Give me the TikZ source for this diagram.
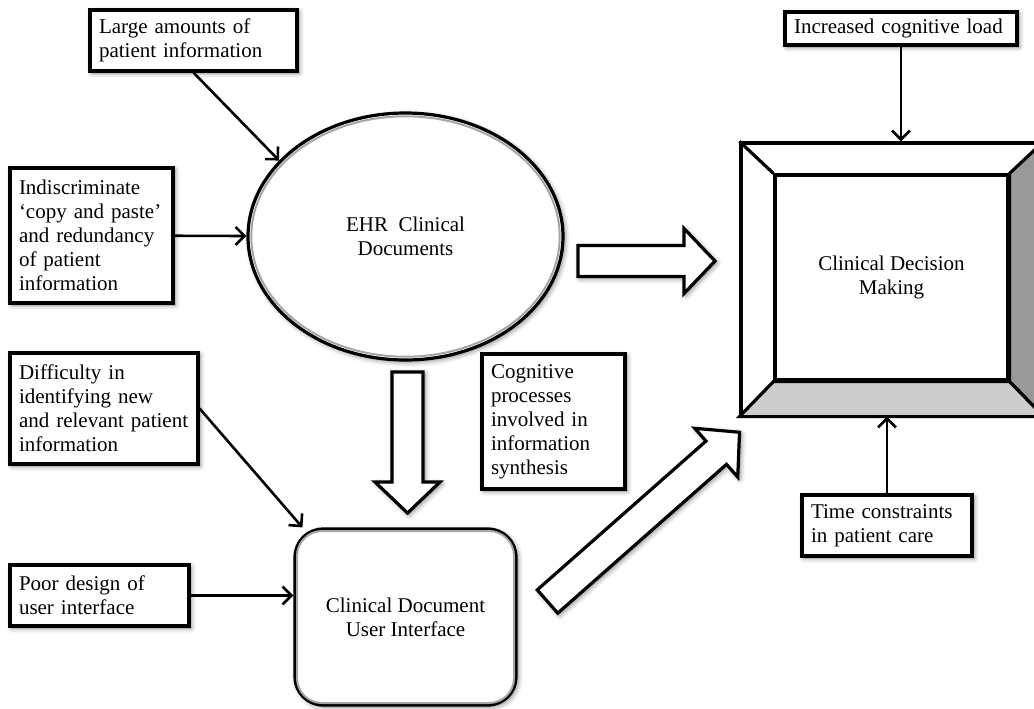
\documentclass[tikz,border=0pt]{standalone}
\usepackage{fontspec}
\setmainfont{Liberation Serif}
\usetikzlibrary{positioning, arrows.meta, shapes.geometric, calc, shadows.blur}
\definecolor{bevdark}{RGB}{153,153,153}
\definecolor{bevlight}{RGB}{204,204,204}
\definecolor{rimgray}{RGB}{165,165,165}

\begin{document}
\begin{tikzpicture}[x=0.5pt, y=-0.5pt,
  txt/.style={font=\fontsize{10.5}{12}\selectfont},
  soft/.style={blur shadow={shadow xshift=1pt, shadow yshift=-1pt,
               shadow blur radius=2.5pt, shadow opacity=50}},
  box/.style={rectangle, draw=black, fill=white, line width=1.6pt,
              txt, align=left, inner xsep=4.5pt, inner ysep=2pt,
              text width=#1, soft},
  doc/.style={ellipse, draw=black, fill=white, line width=1.6pt,
              minimum width=157.5pt, minimum height=123.5pt,
              inner sep=0pt, align=center, txt, soft},
  iface/.style={rectangle, rounded corners=14pt, draw=black, fill=white,
                line width=1.6pt, minimum width=110.5pt, minimum height=88pt,
                align=center, txt, soft},
  bevel/.style={rectangle, draw=black, fill=white, line width=1.6pt},
  arr/.style={-{Straight Barb[length=4.5pt,width=9pt]}, line width=1.3pt},
  blockarrow/.pic={
    \draw[line width=1.6pt, fill=white, soft]
      (0,-15.5) -- (#1-31,-15.5) -- (#1-31,-32.5) -- (#1,0)
      -- (#1-31,32.5) -- (#1-31,15.5) -- (0,15.5) -- cycle;
  }
]
\useasboundingbox (0,0) rectangle (1034,708);

\node[box=94.5pt, minimum height=30.5pt] (large) at (193.5,40.5)
  {Large amounts of\\patient information};
\node[box=72.5pt, minimum height=67.5pt] (copy) at (91.5,235.5)
  {Indiscriminate\\`copy and paste'\\and redundancy\\of patient\\information};
\node[box=85pt, minimum height=55.5pt] (diff) at (104,408.5)
  {Difficulty in\\identifying new\\and relevant patient\\information};
\node[box=80.5pt, minimum height=30.5pt] (poor) at (99.5,595.5)
  {Poor design of\\user interface};
\node[box=62.5pt, minimum height=67.5pt] (cog) at (553.5,421.5)
  {Cognitive\\processes\\involved in\\information\\synthesis};
\node[box=107pt, minimum height=16.5pt] (load) at (901,28.5)
  {Increased cognitive load};
\node[box=76pt, minimum height=30.5pt] (time) at (887,525.5)
  {Time constraints\\in patient care};

\node[doc] (ehr) at (405.5,236.5) {EHR\ \ Clinical\\Documents};
\draw[rimgray, line width=1pt] (ehr.center) ellipse [x radius=77.1pt, y radius=60.1pt];

\node[iface] (ui) at (405.5,617) {Clinical Document\\User Interface};
\draw[rimgray, line width=1pt, rounded corners=12.5pt]
  ($(ui.north west)+(1.8pt,-1.8pt)$) rectangle ($(ui.south east)+(-1.8pt,1.8pt)$);

\node[bevel, minimum width=150.5pt, minimum height=136pt] (frame) at (891.5,279) {};
\node[bevel, minimum width=116.5pt, minimum height=102.5pt, align=center, txt]
  (cdm) at (891.5,277.5) {Clinical Decision\\Making};
\filldraw[fill=bevdark, line width=1.6pt] (frame.north east) -- (cdm.north east)
  -- (cdm.south east) -- (frame.south east) -- cycle;
\filldraw[fill=bevlight, line width=1.6pt] (frame.south west) -- (cdm.south west)
  -- (cdm.south east) -- (frame.south east) -- cycle;
\draw[line width=1.6pt] (frame.north west) -- (cdm.north west);

\draw[arr] (large.south) -- (ehr.149);
\draw[arr] (copy) -- (ehr);
\draw[arr] (diff.east) -- (ui.139);
\draw[arr] (poor.east) -- (poor.east -| ui.west);
\draw[arr] (load.south) -- (load.south |- frame.north);
\draw[arr] (time.north) -- (time.north |- frame.south);

\pic at (578,261) {blockarrow=137};
\pic[rotate=-90] at (407.5,372) {blockarrow=141};
\pic[rotate=41.4] at (547.5,601.5) {blockarrow=256};

\end{tikzpicture}
\end{document}
